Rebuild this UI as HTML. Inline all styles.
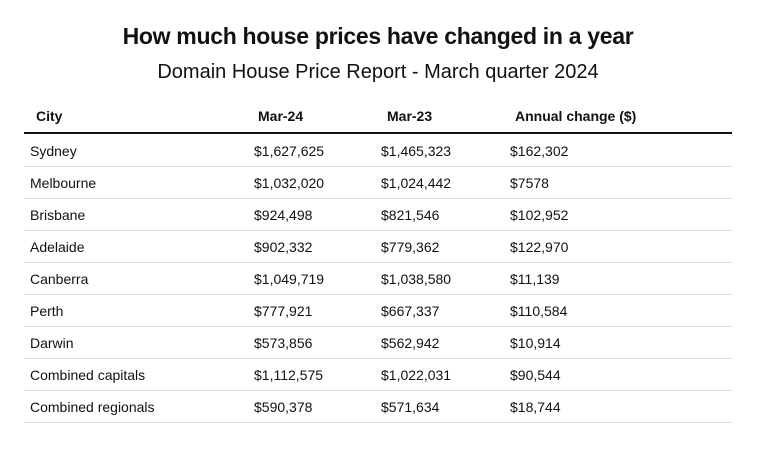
<!DOCTYPE html>
<html><head><style>
body{margin:0;width:768px;height:472px;background:#fff;font-family:"Liberation Sans",sans-serif;color:#111;position:relative;overflow:hidden}
.t{position:absolute;white-space:nowrap}
.h{font-weight:bold;font-size:14px;top:108px}
.r{font-size:14px}
.ln{position:absolute;left:24px;width:708px;height:1px;background:#ddd}
</style></head><body>
<div class="t" style="left:0;width:756px;text-align:center;top:23px;font-size:23px;letter-spacing:-0.3px;font-weight:bold">How much house prices have changed in a year</div>
<div class="t" style="left:0;width:756px;text-align:center;top:61px;font-size:20px">Domain House Price Report - March quarter 2024</div>
<div class="t h" style="left:36px">City</div>
<div class="t h" style="left:258px">Mar-24</div>
<div class="t h" style="left:387px">Mar-23</div>
<div class="t h" style="left:515px">Annual change ($)</div>
<div style="position:absolute;left:24px;top:132px;width:708px;height:2px;background:#111"></div>
<div id="rows"></div>
<script>
var d=[["Sydney","$1,627,625","$1,465,323","$162,302"],["Melbourne","$1,032,020","$1,024,442","$7578"],["Brisbane","$924,498","$821,546","$102,952"],["Adelaide","$902,332","$779,362","$122,970"],["Canberra","$1,049,719","$1,038,580","$11,139"],["Perth","$777,921","$667,337","$110,584"],["Darwin","$573,856","$562,942","$10,914"],["Combined capitals","$1,112,575","$1,022,031","$90,544"],["Combined regionals","$590,378","$571,634","$18,744"]];
var xs=[30,254,381,510],h="";
d.forEach(function(r,i){var y=143+i*32;r.forEach(function(c,j){h+='<div class="t r" style="left:'+xs[j]+'px;top:'+y+'px">'+c+'</div>'});h+='<div class="ln" style="top:'+(166+i*32)+'px"></div>'});
document.getElementById("rows").innerHTML=h;
</script>
</body></html>
